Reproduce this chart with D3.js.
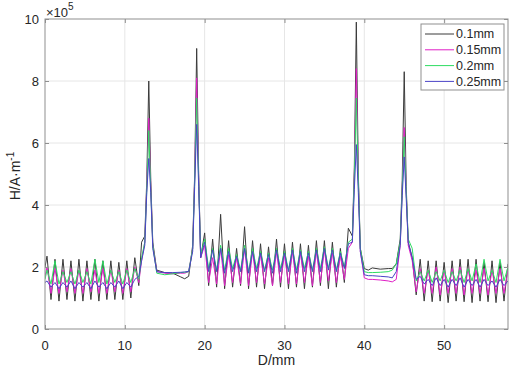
<!DOCTYPE html>
<html>
<head>
<meta charset="utf-8">
<script src="https://cdn.jsdelivr.net/npm/d3@7"></script>
<style>
  body { margin: 0; background: #fff; }
  text { font-family: Arial, "Liberation Sans", sans-serif; fill: #262626; }
</style>
</head>
<body>
<svg width="512" height="370"></svg>
<script>
// sample positions (mm)
const D = [
  0, 0.25, 0.75, 1.25, 1.75, 2.25, 2.75, 3.25, 3.75, 4.25, 4.75, 5.25, 5.75, 6.25, 6.75, 7.25, 7.75, 8.25, 8.75, 9.25, 9.75, 10.25, 10.75, 11.25, 11.75,
  12.1, 12.5, 12.75, 13, 13.25, 13.5, 14, 15, 16, 17, 17.5, 18, 18.5, 18.75, 19, 19.25, 19.5,
  20, 20.5, 21, 21.5, 22, 22.5, 23, 23.5, 24, 24.5, 25, 25.5, 26, 26.5, 27, 27.5, 28, 28.5, 29, 29.5, 30, 30.5, 31, 31.5, 32, 32.5, 33, 33.5, 34, 34.5, 35, 35.5, 36, 36.5, 37, 37.5, 38,
  38.5, 38.75, 39, 39.25, 39.5, 40, 40.5, 41, 42, 43, 43.5, 44, 44.5, 44.75, 45, 45.25, 45.5,
  46, 46.5, 47, 47.5, 48, 48.5, 49, 49.5, 50, 50.5, 51, 51.5, 52, 52.5, 53, 53.5, 54, 54.5, 55, 55.5, 56, 56.5, 57, 57.5, 58
];

// H in units of 1e5 A/m
const h01 = [
  2.0, 2.35, 0.95, 2.25, 0.9, 2.25, 0.95, 2.2, 0.9, 2.25, 0.9, 2.2, 0.95, 2.25, 0.9, 2.2, 0.95, 2.2, 0.95, 2.15, 0.95, 2.2, 1.0, 2.3, 1.4,
  2.8, 3.0, 4.8, 8.0, 4.8, 2.8, 1.9, 1.82, 1.8, 1.68, 1.62, 1.7, 2.7, 5.0, 9.05, 5.0, 2.3,
  3.1, 1.4, 2.9, 1.35, 3.7, 1.3, 2.85, 1.35, 2.6, 1.4, 3.3, 1.3, 2.85, 1.35, 2.75, 1.3, 2.65, 1.4, 2.9, 1.35, 2.75, 1.3, 2.8, 1.35, 2.75, 1.3, 2.7, 1.35, 2.85, 1.4, 2.85, 1.3, 2.8, 1.35, 2.6, 1.5, 3.25,
  3.0, 5.2, 9.9, 5.0, 2.6, 1.95, 1.9, 1.97, 1.93, 1.95, 1.95, 2.1, 2.9, 4.8, 8.3, 4.6, 2.8,
  2.3, 1.1, 2.25, 0.9, 2.2, 0.88, 2.2, 0.9, 2.15, 0.85, 2.2, 0.9, 2.25, 0.88, 2.25, 0.85, 2.25, 0.9, 2.15, 0.88, 2.2, 0.85, 2.15, 0.9, 2.1
];
const h015 = [
  1.7, 2.0, 1.15, 1.95, 1.15, 1.9, 1.2, 1.95, 1.15, 1.9, 1.15, 1.95, 1.2, 1.9, 1.15, 1.95, 1.15, 1.9, 1.2, 1.9, 1.15, 1.95, 1.2, 2.0, 1.5,
  2.2, 2.8, 4.6, 6.8, 4.6, 2.7, 1.85, 1.8, 1.78, 1.8, 1.8, 1.85, 2.6, 4.9, 8.1, 4.9, 2.3,
  2.7, 1.5, 2.3, 1.45, 2.6, 1.4, 2.4, 1.5, 2.3, 1.45, 2.6, 1.4, 2.5, 1.5, 2.4, 1.45, 2.3, 1.4, 2.5, 1.5, 2.4, 1.45, 2.5, 1.45, 2.45, 1.5, 2.35, 1.4, 2.5, 1.5, 2.55, 1.55, 2.45, 1.5, 2.35, 1.6, 2.6,
  2.8, 5.0, 8.4, 4.8, 2.5, 1.65, 1.6, 1.6, 1.58, 1.55, 1.52, 1.6, 2.7, 4.5, 6.5, 4.4, 2.7,
  2.2, 1.2, 1.95, 1.15, 1.9, 1.15, 2.0, 1.1, 1.9, 1.15, 1.95, 1.15, 2.0, 1.1, 1.95, 1.15, 1.9, 1.15, 1.95, 1.1, 1.9, 1.15, 1.95, 1.15, 1.9
];
const h02 = [
  1.6, 1.9, 1.45, 2.2, 1.45, 1.85, 1.5, 1.85, 1.45, 1.9, 1.5, 1.85, 1.45, 2.25, 1.5, 2.2, 1.45, 1.9, 1.5, 1.85, 1.45, 1.9, 1.5, 1.95, 1.6,
  2.3, 2.8, 4.5, 6.4, 4.5, 2.7, 1.8, 1.75, 1.78, 1.82, 1.83, 1.85, 2.6, 4.8, 7.45, 4.8, 2.4,
  2.9, 1.95, 2.6, 1.9, 2.7, 1.9, 2.6, 1.95, 2.4, 1.9, 2.7, 1.85, 2.6, 1.95, 2.5, 1.9, 2.45, 1.9, 2.6, 1.95, 2.5, 1.9, 2.6, 1.9, 2.55, 1.95, 2.5, 1.9, 2.6, 1.95, 2.65, 1.95, 2.6, 1.9, 2.5, 2.0, 2.8,
  2.9, 4.9, 7.45, 4.8, 2.6, 1.85, 1.82, 1.82, 1.83, 1.85, 1.9, 2.1, 2.8, 4.5, 6.2, 4.4, 2.9,
  2.6, 1.55, 1.85, 1.55, 1.9, 1.5, 1.85, 1.55, 1.9, 1.5, 1.85, 1.55, 1.9, 1.5, 1.95, 1.55, 2.1, 1.5, 2.25, 1.55, 1.9, 1.5, 2.25, 1.55, 2.0
];
const h025 = [
  1.5, 1.55, 1.35, 1.5, 1.3, 1.5, 1.35, 1.55, 1.3, 1.5, 1.35, 1.5, 1.3, 1.55, 1.35, 1.5, 1.3, 1.5, 1.35, 1.55, 1.3, 1.5, 1.35, 1.6, 1.7,
  2.2, 2.7, 4.4, 5.5, 4.4, 2.6, 1.85, 1.82, 1.82, 1.83, 1.84, 1.86, 2.5, 4.6, 6.6, 4.6, 2.3,
  2.8, 1.85, 2.55, 1.85, 2.6, 1.8, 2.5, 1.85, 2.35, 1.85, 2.6, 1.8, 2.5, 1.85, 2.45, 1.85, 2.4, 1.8, 2.55, 1.85, 2.45, 1.85, 2.55, 1.8, 2.5, 1.85, 2.45, 1.85, 2.55, 1.85, 2.6, 1.9, 2.55, 1.85, 2.45, 1.95, 2.75,
  2.8, 4.5, 5.95, 4.4, 2.5, 1.75, 1.72, 1.72, 1.7, 1.68, 1.65, 1.85, 2.7, 4.3, 5.55, 4.2, 2.8,
  2.3, 1.6, 1.7, 1.45, 1.6, 1.4, 1.65, 1.4, 1.6, 1.35, 1.6, 1.4, 1.65, 1.35, 1.6, 1.4, 1.6, 1.35, 1.6, 1.4, 1.55, 1.35, 1.6, 1.4, 1.55
];

const names = ['0.1mm', '0.15mm', '0.2mm', '0.25mm'];
const colors = ['#3a3a3a', '#e01fc6', '#2edc62', '#4a44c6'];
const xTicks = [0, 10, 20, 30, 40, 50];
const yTicks = [0, 2, 4, 6, 8, 10];

const series = [h01, h015, h02, h025];

const svg = d3.select('svg');
const margin = { top: 19, right: 4, bottom: 41, left: 45 };
const width = +svg.attr('width');
const height = +svg.attr('height');
const innerWidth = width - margin.left - margin.right;
const innerHeight = height - margin.top - margin.bottom;

// SCALES
const x = d3.scaleLinear().domain([0, 58]).range([0, innerWidth]);
const y = d3.scaleLinear().domain([0, 10]).range([innerHeight, 0]);

const g = svg.append('g')
    .attr('transform', `translate(${margin.left}, ${margin.top})`);

g.append('clipPath').attr('id', 'clip')
  .append('rect').attr('width', innerWidth).attr('height', innerHeight);

// GRID
g.append('g').selectAll('line')
  .data(xTicks.filter(d => d > 0))
  .enter().append('line')
    .attr('x1', d => x(d)).attr('x2', d => x(d))
    .attr('y1', 0).attr('y2', innerHeight)
    .attr('stroke', '#e6e6e6');
g.append('g').selectAll('line')
  .data(yTicks.filter(d => d > 0 && d < 10))
  .enter().append('line')
    .attr('x1', 0).attr('x2', innerWidth)
    .attr('y1', d => y(d)).attr('y2', d => y(d))
    .attr('stroke', '#e6e6e6');

// LINES
const line = d3.line()
    .x((d, i) => x(D[i]))
    .y(d => y(d));

g.append('g').attr('clip-path', 'url(#clip)')
  .selectAll('path')
  .data(series)
  .enter().append('path')
    .attr('d', line)
    .attr('fill', 'none')
    .attr('stroke', (d, i) => colors[i])
    .attr('stroke-width', 1);

// AXES (tick marks only, inward like MATLAB)
const tickMarks = sel => {
  sel.select('.domain').remove();
  sel.selectAll('text').remove();
  sel.selectAll('line').attr('stroke', '#8f8f8f');
};

g.append('g')
    .attr('transform', `translate(0, ${innerHeight})`)
    .call(d3.axisBottom(x).tickValues(xTicks).tickSizeInner(-4).tickSizeOuter(0))
    .call(tickMarks);
g.append('g')
    .call(d3.axisLeft(y).tickValues(yTicks).tickSizeInner(-4).tickSizeOuter(0))
    .call(tickMarks);
g.append('g')
    .call(d3.axisTop(x).tickValues(xTicks).tickSizeInner(-4).tickSizeOuter(0))
    .call(tickMarks);
g.append('g')
    .attr('transform', `translate(${innerWidth}, 0)`)
    .call(d3.axisRight(y).tickValues(yTicks).tickSizeInner(-4).tickSizeOuter(0))
    .call(tickMarks);

g.append('rect')
    .attr('width', innerWidth).attr('height', innerHeight)
    .attr('fill', 'none').attr('stroke', '#8f8f8f');

// tick labels
g.append('g').selectAll('text')
  .data(xTicks)
  .enter().append('text')
    .attr('x', d => x(d))
    .attr('y', innerHeight + 21)
    .attr('text-anchor', 'middle')
    .attr('font-size', 13)
    .text(d => d);
g.append('g').selectAll('text')
  .data(yTicks)
  .enter().append('text')
    .attr('x', -6)
    .attr('y', d => y(d))
    .attr('dy', '0.35em')
    .attr('text-anchor', 'end')
    .attr('font-size', 13)
    .text(d => d);

// exponent
const expo = svg.append('text').attr('x', 46).attr('y', 17).attr('font-size', 13);
expo.append('tspan').text('×10');
expo.append('tspan').attr('font-size', 10).attr('dy', -7).text('5');

// labels
svg.append('text')
    .attr('x', margin.left + x(29)).attr('y', 365)
    .attr('text-anchor', 'middle').attr('font-size', 14)
    .text('D/mm');

const yl = svg.append('text')
    .attr('transform', `translate(20, ${margin.top + innerHeight / 2 + 2}) rotate(-90)`)
    .attr('text-anchor', 'middle').attr('font-size', 14);
yl.append('tspan').text('H/A·m');
yl.append('tspan').attr('font-size', 10).attr('dy', -6).text('-1');

// LEGEND
const lg = svg.append('g').attr('transform', 'translate(421, 24)');
lg.append('rect')
    .attr('width', 83).attr('height', 66)
    .attr('fill', '#fff').attr('stroke', '#8f8f8f');
const items = lg.selectAll('g.item')
  .data(names)
  .enter().append('g')
    .attr('transform', (d, i) => `translate(0, ${10 + i * 15.8})`);
items.append('line')
    .attr('x1', 4).attr('x2', 33)
    .attr('stroke', (d, i) => colors[i]).attr('stroke-width', 1);
items.append('text')
    .attr('x', 35).attr('dy', '0.35em')
    .attr('font-size', 12.5)
    .text(d => d);
</script>
</body>
</html>
